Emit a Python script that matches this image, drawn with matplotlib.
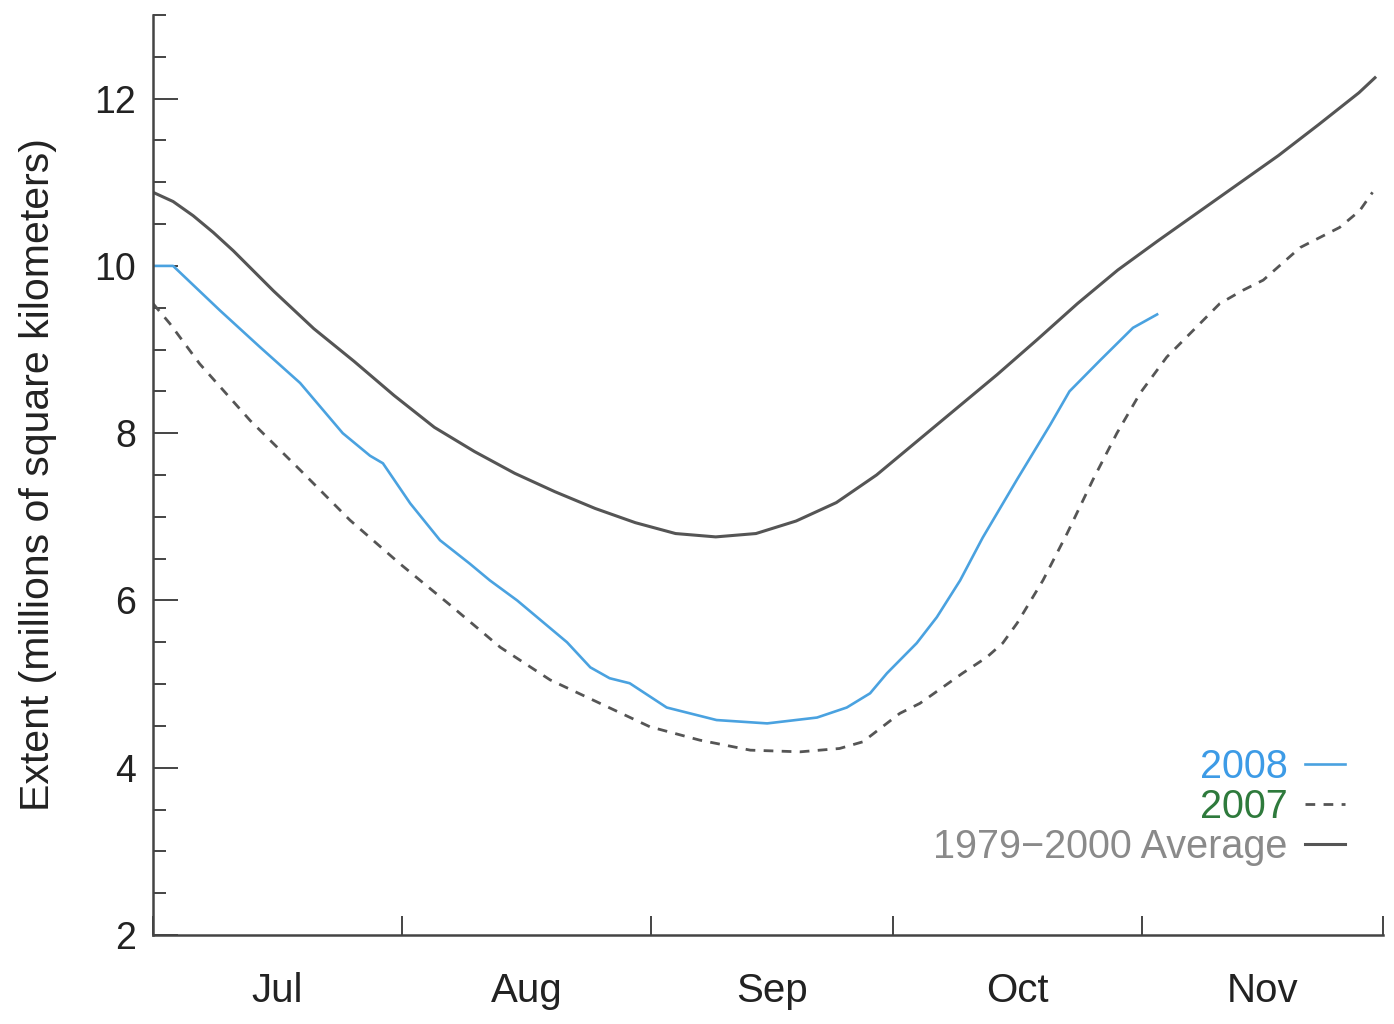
import numpy as np
import matplotlib
matplotlib.use('Agg')
import matplotlib.pyplot as plt
from matplotlib.ticker import FixedLocator, MultipleLocator

plt.rcParams['font.family'] = ['Liberation Sans', 'DejaVu Sans']

# days counted from 1 July; month boundaries
month_edges = [0, 31, 62, 92, 123, 153]
month_names = ['Jul', 'Aug', 'Sep', 'Oct', 'Nov']

# 1979-2000 average
avg_day = [0, 2.5, 5, 7.5, 10, 15, 20, 25, 30, 35, 40, 45, 50, 55, 60, 65, 70, 75, 80,
           85, 90, 95, 100, 105, 110, 115, 120, 125, 130, 135, 140, 145, 150, 152]
avg_val = [10.88, 10.77, 10.6, 10.4, 10.18, 9.7, 9.25, 8.86, 8.45, 8.07, 7.78, 7.52, 7.3, 7.1,
           6.93, 6.8, 6.76, 6.8, 6.95, 7.17, 7.5, 7.9, 8.3, 8.7, 9.12, 9.55,
           9.95, 10.3, 10.64, 10.98, 11.32, 11.69, 12.07, 12.25]

# 2008
y08_day = [0, 2.5, 8.3, 13.3, 18.3, 23.6, 27.0, 28.6, 32.0, 35.7, 39.4, 41.9, 45.3,
           51.5, 54.4, 56.8, 59.3, 63.9, 70.1, 76.4, 82.6, 86.3, 89.2, 91.3, 95.0,
           97.5, 100.4, 103.2, 107.5, 111.6, 114.0, 117.8, 121.9, 124.9]
y08_val = [10.0, 10.0, 9.47, 9.03, 8.6, 8.0, 7.73, 7.64, 7.16, 6.72, 6.44, 6.24, 6.0,
           5.5, 5.2, 5.07, 5.01, 4.72, 4.57, 4.53, 4.6, 4.72, 4.89, 5.13, 5.49,
           5.8, 6.24, 6.75, 7.45, 8.1, 8.5, 8.87, 9.26, 9.42]

# 2007
y07_day = [0, 2.1, 5.8, 12.1, 18.3, 24.5, 30.7, 36.9, 43.2, 49.4, 55.6, 61.8, 68.0,
           74.3, 80.5, 85.4, 88.3, 92.9, 95.4, 98.2, 100.7, 103.7, 105.7, 107.5,
           110.7, 113.7, 116.9, 119.9, 122.8, 126.1, 129.4, 132.7, 135.6, 138.1,
           142.7, 147.6, 150.1, 151.7]
y07_val = [9.55, 9.31, 8.83, 8.15, 7.56, 6.96, 6.44, 5.95, 5.44, 5.05, 4.77, 4.49, 4.33,
           4.21, 4.19, 4.23, 4.31, 4.65, 4.77, 4.96, 5.13, 5.32, 5.49, 5.73,
           6.24, 6.8, 7.44, 8.0, 8.48, 8.91, 9.23, 9.55, 9.71, 9.83,
           10.22, 10.46, 10.66, 10.88]

fig = plt.figure(figsize=(13.94, 10.24), dpi=100)
ax = fig.add_axes([153/1394, 89/1024, 1230/1394, 920/1024])

l08, = ax.plot(y08_day, y08_val, color='#4aa2e0', lw=1.9, label='2008')
l07, = ax.plot(y07_day, y07_val, color='#555555', lw=2.0, ls=(0, (3.5, 3)), label='2007')
lav, = ax.plot(avg_day, avg_val, color='#555555', lw=2.2, label='1979\u22122000 Average')

ax.set_xlim(month_edges[0], month_edges[-1])
ax.set_ylim(2, 13)

for s in ['top', 'right']:
    ax.spines[s].set_visible(False)
for s in ['left', 'bottom']:
    ax.spines[s].set_linewidth(1.8)
    ax.spines[s].set_color('#444444')

# month boundaries as ticks, names centred in each month
mids = [(a + b) / 2 for a, b in zip(month_edges[:-1], month_edges[1:])]
ax.xaxis.set_major_locator(FixedLocator(month_edges))
ax.xaxis.set_major_formatter(plt.NullFormatter())
ax.set_xticks(mids, month_names, minor=True)
ax.tick_params(axis='x', which='major', direction='in', length=14, width=1.4, color='#444444')
ax.tick_params(axis='x', which='minor', length=0, pad=27, labelsize=29, labelcolor='#222222')

ax.yaxis.set_major_locator(MultipleLocator(2))
ax.yaxis.set_minor_locator(MultipleLocator(0.5))
ax.tick_params(axis='y', which='major', direction='in', length=18, width=1.4,
               color='#444444', pad=12, labelsize=27, labelcolor='#222222')
ax.tick_params(axis='y', which='minor', direction='in', length=9, width=1.4, color='#444444')

ax.set_ylabel('Extent (millions of square kilometers)', fontsize=29.5, color='#222222', labelpad=27)

leg = ax.legend(handles=[l08, l07, lav], loc='lower right', markerfirst=False, frameon=False,
                fontsize=28.5, labelcolor=['#3d9be6', '#2e7a3c', '#8a8a8a'],
                handlelength=1.0, handletextpad=0.45, labelspacing=0.05, borderpad=0,
                borderaxespad=0,
                bbox_to_anchor=(1345/1394, 1 - 866/1024), bbox_transform=fig.transFigure)

fig.savefig('out.png', dpi=100)
